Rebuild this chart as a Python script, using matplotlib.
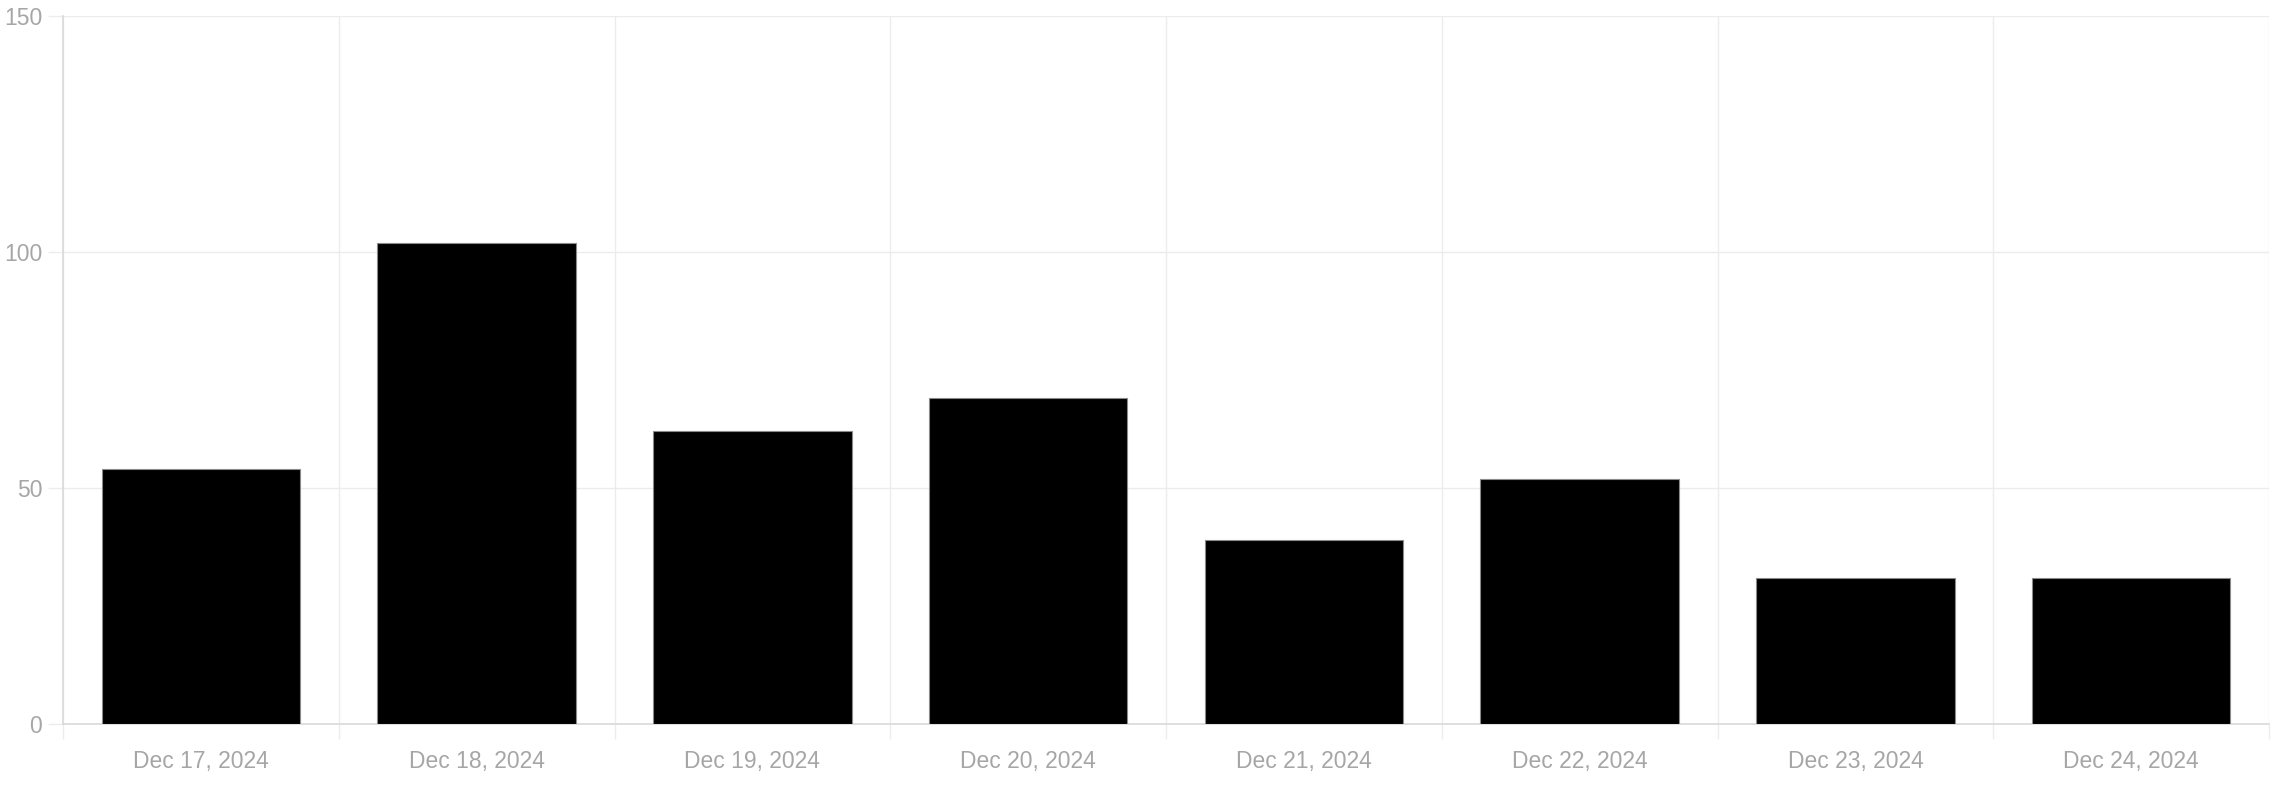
import numpy as np
import matplotlib
matplotlib.use("Agg")
import matplotlib.pyplot as plt

# data
days = ["Dec 17, 2024", "Dec 18, 2024", "Dec 19, 2024", "Dec 20, 2024",
        "Dec 21, 2024", "Dec 22, 2024", "Dec 23, 2024", "Dec 24, 2024"]
counts = [54, 102, 62, 69, 39, 52, 31, 31]
y_ticks = [0, 50, 100, 150]

plt.rcParams['font.family'] = ['Liberation Sans', 'DejaVu Sans']

grid_col = "#ececec"
axis_col = "#d9d9d9"
text_col = "#a6a6a6"

fig = plt.figure(figsize=(22.74, 8.06), dpi=100)
ax = fig.add_axes([63 / 2274, 1 - 724 / 806, (2269 - 63) / 2274, (724 - 16) / 806])

x = np.arange(len(days))
ax.bar(x, counts, width=0.72, color="black", edgecolor="#8a8a8a", linewidth=0.8, zorder=3)

ax.set_xlim(-0.5, len(days) - 0.5)
ax.set_ylim(0, 150)

# labels at centres, grid lines at category boundaries
ax.set_xticks(x)
ax.set_xticklabels(days)
ax.set_xticks(np.arange(len(days) + 1) - 0.5, minor=True)
ax.tick_params(axis="x", which="major", length=0, pad=19, labelsize=16.5, labelcolor=text_col)
ax.tick_params(axis="x", which="minor", length=11, width=1, color=grid_col)
ax.grid(axis="x", which="minor", color=grid_col, linewidth=1, zorder=0)

ax.set_yticks(y_ticks)
ax.tick_params(axis="y", length=11, width=1, color=grid_col, pad=4, labelsize=16.5, labelcolor=text_col)
ax.grid(axis="y", which="major", color=grid_col, linewidth=1, zorder=0)

for side in ["top", "right"]:
    ax.spines[side].set_visible(False)
ax.spines["left"].set_color(axis_col)
ax.spines["bottom"].set_color(axis_col)
ax.spines["left"].set_linewidth(1.2)
ax.spines["bottom"].set_linewidth(1.2)
ax.set_axisbelow(True)

fig.savefig("out.png", dpi=100)
